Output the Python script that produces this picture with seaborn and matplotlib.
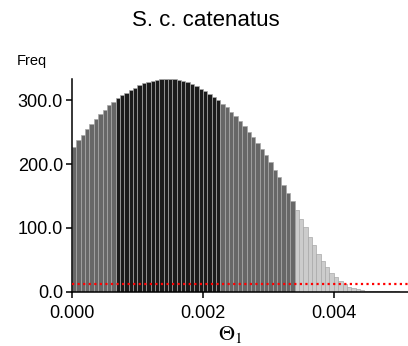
import numpy as np
import pandas as pd
import matplotlib
matplotlib.use("Agg")
import matplotlib.pyplot as plt
import seaborn as sns

# Posterior histogram of Theta_1, bin width 1/15 of 0.001
bin_width = 0.001 / 15
freq = [
    227, 237, 246, 255, 263, 271, 279, 285, 292, 298,
    303, 308, 312, 317, 320, 323.5, 326.5, 329, 331, 332.5,
    333, 333.5, 333.5, 333, 332, 330, 328, 325, 322, 318,
    314, 310, 306, 301, 295, 289, 282, 275, 267, 259,
    251, 242, 233, 223, 213.6, 202.7, 191, 179.7, 167.7, 154.6,
    141.6, 127.5, 114.5, 100.5, 85.8, 72.3, 58.7, 48.2, 38.8, 29.4,
    22, 16.4, 11.7, 7.5, 5, 3.4, 2.3, 1.5, 1.0, 0.6,
    0.4, 0.3, 0.2, 0.1, 0.1,
]
# Credibility bands: 0 = outer, 1 = 50% interval, 2 = tail beyond 95%
band = [0] * 10 + [1] * 24 + [0] * 17 + [2] * (len(freq) - 51)
band_colors = {"outer": "#676767", "inner": "#1b1b1b", "tail": "#cccccc"}
band_names = {0: "outer", 1: "inner", 2: "tail"}
prior_level = 11.0

title = "S. c. catenatus"
x_ticks = [0.000, 0.002, 0.004]
y_ticks = [0.0, 100.0, 200.0, 300.0]

n = len(freq)
df = pd.DataFrame({
    "theta": (np.arange(n) + 0.5) * bin_width,
    "freq": freq,
    "band": [band_names[b] for b in band],
})

sns.set_theme(style="ticks")
plt.rcParams["font.family"] = ["Liberation Sans", "DejaVu Sans"]
plt.rcParams["mathtext.fontset"] = "stix"
plt.rcParams["text.color"] = "black"
plt.rcParams["xtick.labelcolor"] = "black"
plt.rcParams["ytick.labelcolor"] = "black"

fig = plt.figure(figsize=(4.08, 3.46), dpi=100)
ax = fig.add_axes([0.1765, 0.1575, 0.8235, 0.6142])

sns.histplot(
    data=df, x="theta", weights="freq", binwidth=bin_width,
    binrange=(0, n * bin_width), hue="band",
    hue_order=["outer", "inner", "tail"], palette=band_colors,
    multiple="layer", alpha=1.0, edgecolor="#a8a8a8", linewidth=0.5,
    legend=False, ax=ax,
)
ax.axhline(prior_level, color="red", linestyle=(0, (1, 1.5)), linewidth=1.6, zorder=5)

ax.set_xlim(0, 0.005133)
ax.set_ylim(0, max(freq))
ax.set_xticks(x_ticks)
ax.set_xticklabels([f"{v:.3f}" for v in x_ticks], fontsize=13)
ax.set_yticks(y_ticks)
ax.set_yticklabels([f"{v:.1f}" for v in y_ticks], fontsize=13)
ax.tick_params(axis="both", length=4, width=1.1, color="black")
ax.tick_params(axis="x", pad=6)
ax.tick_params(axis="y", pad=2.5)
for side in ("left", "bottom"):
    ax.spines[side].set_linewidth(1.1)
    ax.spines[side].set_color("black")
sns.despine(ax=ax)

ax.set_xlabel(r"$\Theta_1$", fontsize=16, color="black")
ax.xaxis.set_label_coords(0.47, -0.155)
ax.set_ylabel("")
fig.text(0.042, 0.825, "Freq", fontsize=10.5, ha="left", va="center", color="black")
fig.text(0.505, 0.94, title, fontsize=16, ha="center", va="center", color="black")

fig.savefig("out.png", dpi=100)
